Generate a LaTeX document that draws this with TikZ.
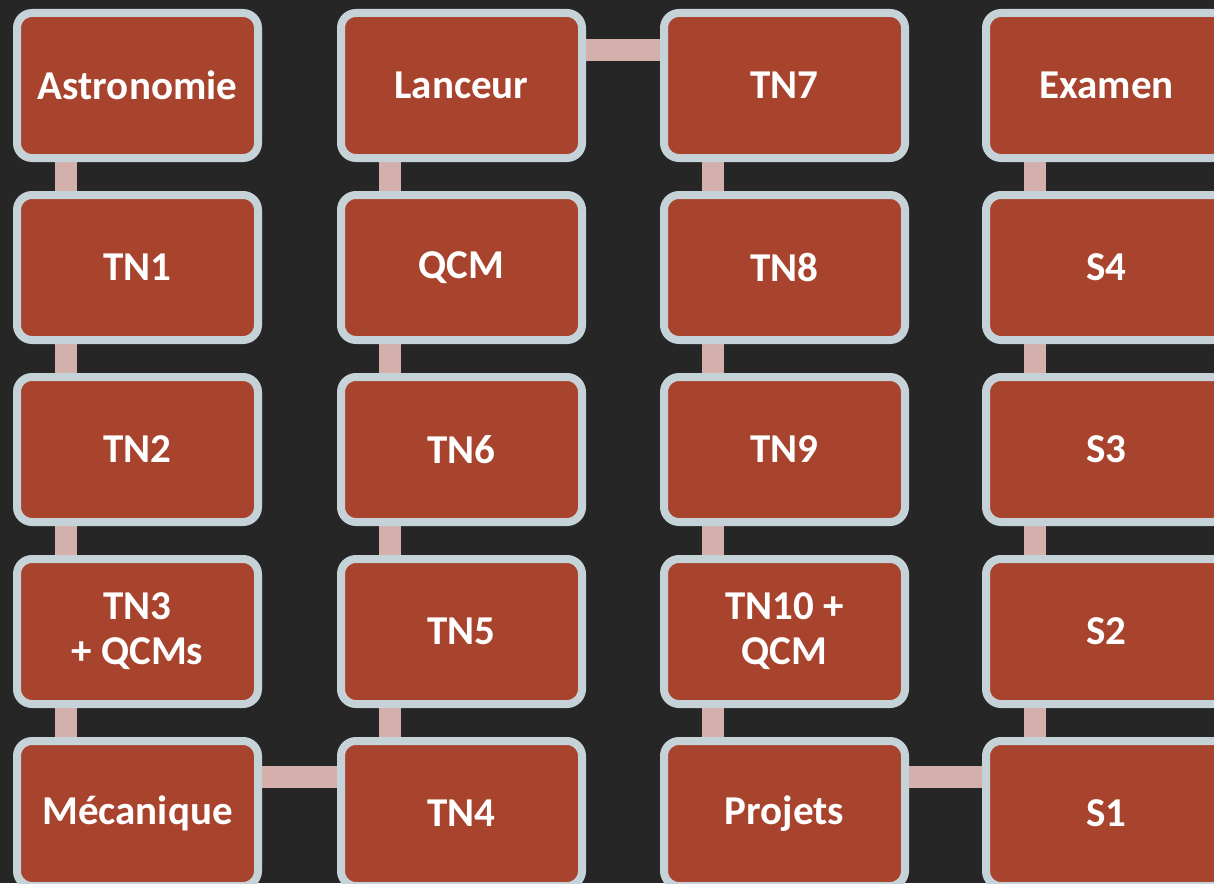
\documentclass[tikz,border=0pt]{standalone}
\usepackage{fontspec}
\setmainfont{Carlito}
\pgfdeclarelayer{bottom}
\pgfdeclarelayer{background}
\pgfsetlayers{bottom,background,main}
\definecolor{bg}{HTML}{262626}
\definecolor{boxfill}{HTML}{A8432D}
\definecolor{boxline}{HTML}{C5D2D8}
\definecolor{conn}{HTML}{D3B0AB}
\tikzset{
  stepbox/.style={draw=boxline, line width=8pt, fill=boxfill, rounded corners=15pt,
    minimum width=241pt, minimum height=145pt, inner sep=0pt, text=white,
    font=\fontsize{41}{45}\selectfont\bfseries, align=center},
  link/.style={draw=conn, line width=22pt}
}
\begin{document}
\begin{tikzpicture}[x=1pt,y=-1pt]
\begin{pgfonlayer}{bottom}
\fill[bg] (0,0) rectangle (1214,883);
\end{pgfonlayer}
\useasboundingbox (0,0) rectangle (1214,883);
\node[stepbox] (astro) at (137.5,85.5) {Astronomie};
\node[stepbox] (tn1) at (137.5,267.5) {TN1};
\node[stepbox] (tn2) at (137.5,449.5) {TN2};
\node[stepbox] (tn3) at (137.5,631.5) {TN3\\+ QCMs};
\node[stepbox] (meca) at (137.5,813.5) {Mécanique};
\node[stepbox] (tn4) at (461.5,813.5) {TN4};
\node[stepbox] (tn5) at (461.5,631.5) {TN5};
\node[stepbox] (tn6) at (461.5,449.5) {TN6};
\node[stepbox] (qcm) at (461.5,267.5) {QCM};
\node[stepbox] (lanceur) at (461.5,85.5) {Lanceur};
\node[stepbox] (tn7) at (784.5,85.5) {TN7};
\node[stepbox] (tn8) at (784.5,267.5) {TN8};
\node[stepbox] (tn9) at (784.5,449.5) {TN9};
\node[stepbox] (tn10) at (784.5,631.5) {TN10 +\\QCM};
\node[stepbox] (proj) at (784.5,813.5) {Projets};
\node[stepbox] (s1) at (1106.5,813.5) {S1};
\node[stepbox] (s2) at (1106.5,631.5) {S2};
\node[stepbox] (s3) at (1106.5,449.5) {S3};
\node[stepbox] (s4) at (1106.5,267.5) {S4};
\node[stepbox] (exam) at (1106.5,85.5) {Examen};
\begin{pgfonlayer}{background}
\foreach \a/\b in {astro/tn1,tn1/tn2,tn2/tn3,tn3/meca,tn4/tn5,tn5/tn6,tn6/qcm,qcm/lanceur,
  tn7/tn8,tn8/tn9,tn9/tn10,tn10/proj,s1/s2,s2/s3,s3/s4,s4/exam}
  \draw[link] ([xshift=-71.5pt]\a.center) -- ([xshift=-71.5pt]\b.center);
\draw[link] ([yshift=37pt]meca.center) -- ([yshift=37pt]tn4.center);
\draw[link] ([yshift=35.5pt]lanceur.center) -- ([yshift=35.5pt]tn7.center);
\draw[link] ([yshift=37pt]proj.center) -- ([yshift=37pt]s1.center);
\end{pgfonlayer}
\end{tikzpicture}
\end{document}
